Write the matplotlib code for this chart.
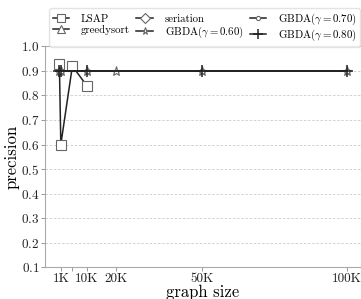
import numpy as np
import matplotlib
matplotlib.use('Agg')
import matplotlib.pyplot as plt

plt.rcParams['font.family'] = 'serif'
plt.rcParams['font.serif'] = ['cmr10']
plt.rcParams['mathtext.fontset'] = 'cm'
plt.rcParams['axes.unicode_minus'] = False
plt.rcParams['axes.formatter.use_mathtext'] = True

# data
lsap_x = [500, 1000, 5000, 10000]
lsap_y = [0.93, 0.60, 0.92, 0.84]
greedy_x = []
greedy_y = []
seri_x = []
seri_y = []
g60_x = [500, 1000, 10000, 20000, 50000, 100000]
g60_y = [0.90, 0.90, 0.90, 0.90, 0.90, 0.90]
g70_x = [500, 1000, 10000, 50000, 100000]
g70_y = [0.90, 0.90, 0.90, 0.90, 0.90]
g80_x = [500, 1000, 10000, 50000, 100000]
g80_y = [0.90, 0.90, 0.90, 0.90, 0.90]

xticks = [1000, 5000, 10000, 20000, 50000, 100000]
xticklabels = ['1K', '', '10K', '20K', '50K', '100K']
yticks = [0.1, 0.2, 0.3, 0.4, 0.5, 0.6, 0.7, 0.8, 0.9, 1.0]

fig = plt.figure(figsize=(3.61, 2.99), dpi=100)
ax = fig.add_axes([0.1247, 0.107, 0.8753, 0.7375])

lc = '#222222'
ec = '#666666'
kw = dict(color=lc, lw=1.1, mfc='white', mec=ec, mew=0.8)
ax.plot(lsap_x, lsap_y, marker='s', ms=6.5, label='LSAP', **kw)
ax.plot(greedy_x, greedy_y, marker='^', ms=6.5, label='greedysort', **kw)
ax.plot(seri_x, seri_y, marker='D', ms=5.5, label='seriation', **kw)
ax.plot(g60_x, g60_y, marker='*', ms=6.5, label=r'GBDA($\gamma = 0.60$)', **kw)
ax.plot(g70_x, g70_y, marker='o', ms=3.5, label=r'GBDA($\gamma = 0.70$)', **kw)
ax.plot(g80_x, g80_y, marker='+', ms=8, label=r'GBDA($\gamma = 0.80$)',
        color=lc, lw=1.1, mec=lc, mew=1.1)

ax.set_ylim(0.1, 1.0)
ax.set_yticks(yticks)
ax.set_xticks(xticks)
ax.set_xticklabels(xticklabels)
ax.tick_params(labelsize=9.5, colors='#888888', length=3, width=0.6, pad=1)
for lab in ax.get_xticklabels() + ax.get_yticklabels():
    lab.set_color('#222222')
ax.grid(axis='y', ls=(0, (3, 2)), color='#cccccc', lw=0.6)
ax.set_axisbelow(True)
for s in ['left', 'bottom', 'top']:
    ax.spines[s].set_color('#aaaaaa')
ax.spines['right'].set_visible(False)
ax.set_xlabel('graph size', fontsize=12, labelpad=0)
ax.set_ylabel('precision', fontsize=12, labelpad=1)

h, l = ax.get_legend_handles_labels()
leg = fig.legend(h, l, ncol=3,
                 loc='upper left', bbox_to_anchor=(0.122, 0.99),
                 fontsize=7.8, handlelength=1.5, handletextpad=1.1,
                 columnspacing=0.6, labelspacing=0.1, borderpad=0.3,
                 markerscale=0.85, frameon=True, fancybox=True,
                 edgecolor='#dddddd')

fig.savefig('out.png', dpi=100)
